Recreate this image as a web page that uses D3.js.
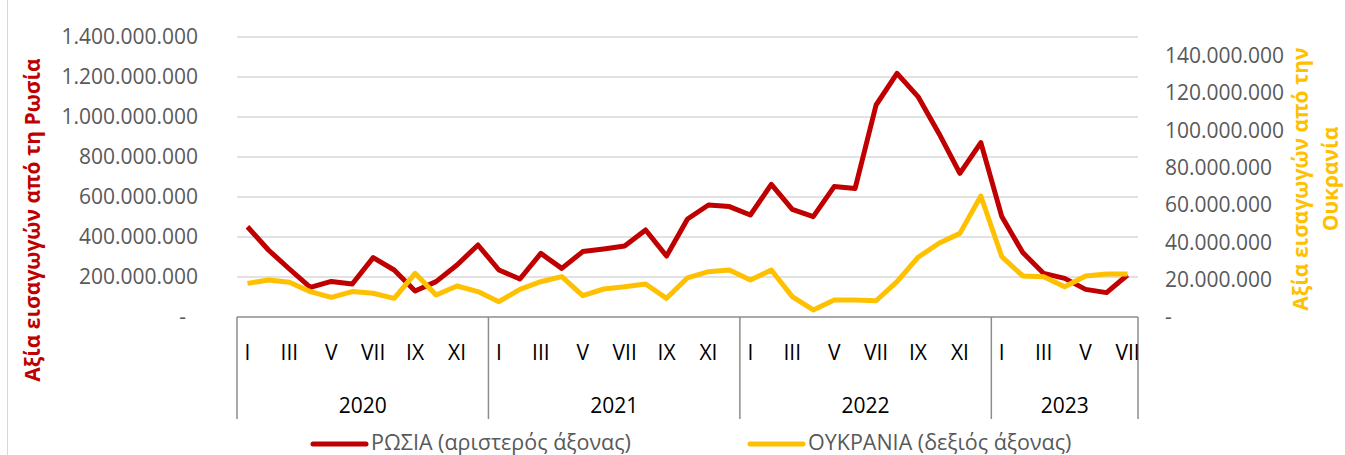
<!DOCTYPE html>
<html>
<head>
<meta charset="utf-8">
<script src="https://cdn.jsdelivr.net/npm/d3@7"></script>
<style>
  body { margin: 0; background: #fff; }
  text { font-family: "Open Sans", "Noto Sans", sans-serif; }
</style>
</head>
<body>
<div id="chart"></div>
<script>
// drawing space
const width = 1345,
  height = 455,
  plot = { left: 237, right: 1138, top: 37, bottom: 317 };

// data (values in millions of euro)
const years = ["2020", "2021", "2022", "2023"];
const monthNames = ["I", "II", "III", "IV", "V", "VI", "VII", "VIII", "IX", "X", "XI", "XII"];
const monthsPerYear = [12, 12, 12, 7];

const russia = [
  451, 335, 240, 148, 178, 165, 297, 235, 130, 177, 260, 360,
  235, 190, 318, 243, 327, 340, 355, 435, 305, 490, 560, 552,
  510, 663, 538, 502, 652, 643, 1060, 1218, 1102, 918, 718, 872,
  502, 322, 218, 193, 138, 122, 210
];
const ukraine = [
  18.0, 19.8, 18.6, 13.6, 10.5, 13.6, 12.7, 10.0, 23.4, 11.8, 16.6, 13.6,
  8.2, 14.8, 18.9, 21.6, 11.4, 15.0, 16.2, 17.7, 10.0, 21.0, 24.3, 25.2,
  19.8, 25.2, 10.9, 3.8, 9.1, 9.1, 8.7, 18.9, 32.0, 39.5, 44.8, 64.8,
  32.3, 22.0, 21.6, 16.2, 22.0, 23.0, 23.0
];

const leftTicks = [0, 200, 400, 600, 800, 1000, 1200, 1400];
const rightTicks = [0, 20, 40, 60, 80, 100, 120, 140];

const leftTitle = "Αξία εισαγωγών από τη Ρωσία";
const rightTitle = ["Αξία εισαγωγών από την", "Ουκρανία"];
const legendLabels = ["ΡΩΣΙΑ (αριστερός άξονας)", "ΟΥΚΡΑΝΙΑ (δεξιός άξονας)"];

const red = "#C00000", gold = "#FFC000", grey = "#595959";

// categories: year + month
const categories = [];
years.forEach((y, i) => {
  for (let m = 0; m < monthsPerYear[i]; m++) {
    categories.push({ key: y + "-" + m, year: y, month: monthNames[m], m: m });
  }
});
const rows = categories.map((c, i) => ({ ...c, ru: russia[i], ua: ukraine[i] }));

const locale = d3.formatLocale({ decimal: ",", thousands: ".", grouping: [3], currency: ["", ""] });
const fmt = d => d === 0 ? "-" : locale.format(",")(d * 1e6);

// scales
const xScale = d3.scaleBand()
  .domain(categories.map(d => d.key))
  .range([plot.left, plot.right])
  .padding(0);

const yLeft = d3.scaleLinear().domain([0, 1400]).range([plot.bottom, plot.top]);
const yRight = d3.scaleLinear().domain([0, 150]).range([plot.bottom, plot.top]);

const svg = d3.select("#chart")
  .append("svg")
  .attr("width", width)
  .attr("height", height);

svg.append("rect")
  .attr("width", width)
  .attr("height", height)
  .attr("fill", "#fff");

// faint chart border
svg.append("line")
  .attr("x1", 7.5).attr("x2", 7.5)
  .attr("y1", 0).attr("y2", height)
  .attr("stroke", "#d9d9d9");

// gridlines
svg.append("g")
  .selectAll("line")
  .data(leftTicks.filter(d => d > 0))
  .join("line")
  .attr("x1", plot.left)
  .attr("x2", plot.right)
  .attr("y1", d => yLeft(d))
  .attr("y2", d => yLeft(d))
  .attr("stroke", "#d9d9d9")
  .attr("stroke-width", 1.5);

// left axis
const leftAxis = svg.append("g")
  .attr("transform", `translate(${plot.left},0)`)
  .call(d3.axisLeft(yLeft).tickValues(leftTicks).tickSize(0).tickPadding(39).tickFormat(fmt));
leftAxis.select(".domain").remove();
leftAxis.selectAll("text")
  .attr("fill", grey)
  .attr("font-size", 21)
  .attr("dx", d => d === 0 ? -12 : 0);

// right axis
const rightAxis = svg.append("g")
  .attr("transform", `translate(${plot.right},0)`)
  .call(d3.axisRight(yRight).tickValues(rightTicks).tickSize(0).tickPadding(27).tickFormat(fmt));
rightAxis.select(".domain").remove();
rightAxis.selectAll("text")
  .attr("fill", grey)
  .attr("font-size", 21);

// category axis
const xAxis = svg.append("g");
xAxis.append("line")
  .attr("x1", plot.left).attr("x2", plot.right)
  .attr("y1", plot.bottom).attr("y2", plot.bottom)
  .attr("stroke", "#8c8c8c")
  .attr("stroke-width", 1.5);

const yearSpans = years.map(y => {
  const keys = categories.filter(c => c.year === y);
  return {
    year: y,
    x0: xScale(keys[0].key),
    x1: xScale(keys[keys.length - 1].key) + xScale.bandwidth()
  };
});

xAxis.selectAll(".sep")
  .data([yearSpans[0].x0, ...yearSpans.map(d => d.x1)])
  .join("line")
  .attr("class", "sep")
  .attr("x1", d => d).attr("x2", d => d)
  .attr("y1", plot.bottom).attr("y2", 419)
  .attr("stroke", "#8c8c8c")
  .attr("stroke-width", 1.5);

xAxis.selectAll(".month")
  .data(categories.filter(c => c.m % 2 === 0))
  .join("text")
  .attr("class", "month")
  .attr("x", d => xScale(d.key) + xScale.bandwidth() / 2)
  .attr("y", 360)
  .attr("text-anchor", "middle")
  .attr("font-size", 21)
  .attr("fill", "#000")
  .text(d => d.month);

xAxis.selectAll(".year")
  .data(yearSpans)
  .join("text")
  .attr("class", "year")
  .attr("x", d => (d.x0 + d.x1) / 2)
  .attr("y", 413)
  .attr("text-anchor", "middle")
  .attr("font-size", 21)
  .attr("fill", "#000")
  .text(d => d.year);

// lines
const xMid = d => xScale(d.key) + xScale.bandwidth() / 2;

const ruLine = d3.line().x(xMid).y(d => yLeft(d.ru));
const uaLine = d3.line().x(xMid).y(d => yRight(d.ua));

svg.append("path")
  .datum(rows)
  .attr("d", ruLine)
  .attr("fill", "none")
  .attr("stroke", red)
  .attr("stroke-width", 5)
  .attr("stroke-linejoin", "round");

svg.append("path")
  .datum(rows)
  .attr("d", uaLine)
  .attr("fill", "none")
  .attr("stroke", gold)
  .attr("stroke-width", 5)
  .attr("stroke-linejoin", "round");

// axis titles
svg.append("text")
  .attr("transform", `translate(40, 220) rotate(-90)`)
  .attr("text-anchor", "middle")
  .attr("font-size", 21)
  .attr("font-weight", "bold")
  .attr("fill", red)
  .text(leftTitle);

svg.append("text")
  .attr("transform", `translate(1308, 179) rotate(-90)`)
  .attr("text-anchor", "middle")
  .attr("font-size", 21)
  .attr("font-weight", "bold")
  .attr("fill", gold)
  .selectAll("tspan")
  .data(rightTitle)
  .join("tspan")
  .attr("x", 0)
  .attr("dy", (d, i) => i === 0 ? 0 : 30)
  .text(d => d);

// legend
const legend = svg.append("g")
  .selectAll("g")
  .data([
    { label: legendLabels[0], color: red, x: 313 },
    { label: legendLabels[1], color: gold, x: 750 }
  ])
  .join("g")
  .attr("transform", d => `translate(${d.x}, 444)`);

legend.append("line")
  .attr("x1", 0).attr("x2", 53)
  .attr("stroke", d => d.color)
  .attr("stroke-width", 5)
  .attr("stroke-linecap", "round");

legend.append("text")
  .attr("x", 58)
  .attr("y", 6)
  .attr("font-size", 21.5)
  .attr("fill", grey)
  .text(d => d.label);
</script>
</body>
</html>
